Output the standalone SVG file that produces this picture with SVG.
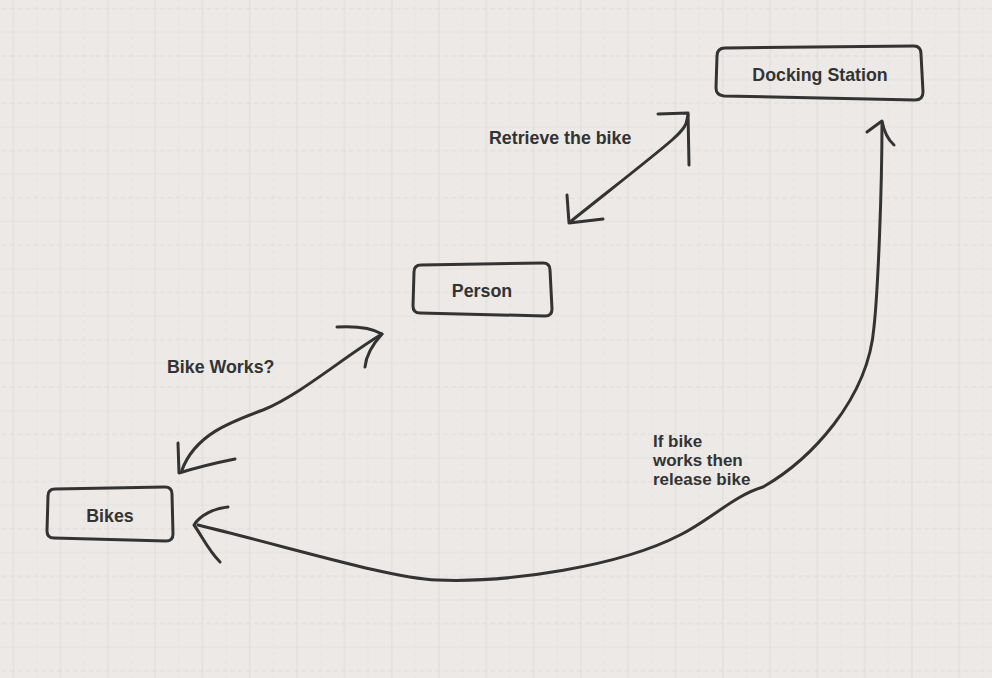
<svg xmlns="http://www.w3.org/2000/svg" width="992" height="678" viewBox="0 0 992 678">
<style>
.box{fill:none;stroke:#333;stroke-width:3;stroke-linejoin:round;stroke-linecap:round}
.con{fill:none;stroke:#333;stroke-width:3;stroke-linecap:round;stroke-linejoin:round}
.lbl{font-family:"Liberation Sans",Arial,Helvetica,sans-serif;font-weight:bold;font-size:17.8px;fill:#333}
.sm{font-size:17px}
.mid{text-anchor:middle}
</style>
<defs>
<pattern id="grid" patternUnits="userSpaceOnUse" x="1.5" y="20.5" width="47.3" height="47.3">
<line x1="35.45" y1="0" x2="35.45" y2="47.3" stroke="#e5e2df" stroke-width="1" stroke-dasharray="4,4"/>
<line x1="0" y1="35.45" x2="47.3" y2="35.45" stroke="#dedbd8" stroke-width="1" stroke-dasharray="5,3"/>
<line x1="0" y1="11.8" x2="47.3" y2="11.8" stroke="#e4e1de" stroke-width="1"/>
<line x1="11.8" y1="0" x2="11.8" y2="47.3" stroke="#dedbd8" stroke-width="1"/>
</pattern>
</defs>
<rect x="0" y="0" width="992" height="678" fill="#ece9e6"/>
<rect x="0" y="0" width="992" height="678" fill="url(#grid)"/>

<g id="connectors">
<g id="retrieve">
<path class="con" d="M570,222 C610,190 655,155 672,140 S686,122 688,115"/>
<path class="con" d="M658,114 L688,113 L689,165"/>
<path class="con" d="M567,195 L569,223 L603,219"/>
</g>
<g id="bike-works">
<path class="con" d="M382,334 C345,356 300,395 263,410 C230,422 195,435 182,470"/>
<path class="con" d="M337,327 C355,326 372,328 382,334 C372,345 366,355 365,367"/>
<path class="con" d="M178,443 L179,473 Q205,465 235,459"/>
</g>
<g id="release">
<path class="con" d="M198,525 C300,550 390,578 437,580 C510,583 620,566 680,535 C710,520 735,495 763,487 C810,460 868,400 874,327 C878,290 882,190 882,122"/>
<path class="con" d="M867,132 Q875,126 882,121 Q885,137 894,145"/>
<path class="con" d="M228,507 C215,508 200,515 194,525 C202,536 208,550 220,562"/>
</g>
</g>

<g id="docking-station">
<path class="box" d="M725,48 L914,46 Q921,46 921,54 L923,92 Q923,100 915,100 L724,96 Q716,95 716,88 L717,56 Q717,48 725,48 Z"/>
<text class="lbl mid" x="820" y="81">Docking Station</text>
</g>
<g id="person">
<path class="box" d="M421,265 L543,263 Q550,263 550,270 L552,309 Q552,316 545,316 L420,313 Q413,313 413,306 L414,272 Q414,265 421,265 Z"/>
<text class="lbl mid" x="482" y="297">Person</text>
</g>
<g id="bikes">
<path class="box" d="M55,489 L165,487 Q172,487 172,494 L173,534 Q173,541 166,541 L54,538 Q47,538 47,531 L48,496 Q48,489 55,489 Z"/>
<text class="lbl mid" x="110" y="522">Bikes</text>
</g>

<g id="labels">
<text class="lbl" x="489" y="144">Retrieve the bike</text>
<text class="lbl" x="167" y="373">Bike Works?</text>
<text class="lbl sm" x="653" y="447">If bike</text>
<text class="lbl sm" x="653" y="466">works then</text>
<text class="lbl sm" x="653" y="485">release bike</text>
</g>
</svg>
